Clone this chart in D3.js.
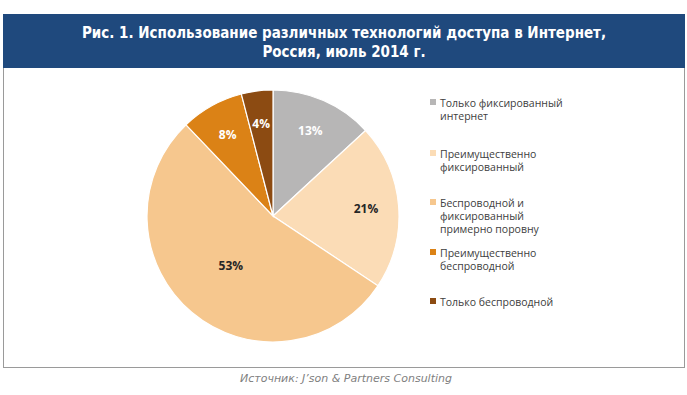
<!DOCTYPE html>
<html>
<head>
<meta charset="utf-8">
<script src="https://cdn.jsdelivr.net/npm/d3@7"></script>
<style>
  body { margin: 0; background: #fff; }
</style>
</head>
<body>
<div class="pieChart"></div>
<script>
var titleLines = ["Рис. 1. Использование различных технологий доступа в Интернет,", "Россия, июль 2014 г."];
var categories = [
  "Только фиксированный интернет",
  "Преимущественно фиксированный",
  "Беспроводной и фиксированный примерно поровну",
  "Преимущественно беспроводной",
  "Только беспроводной"
];
var legendLines = [
  ["Только фиксированный", "интернет"],
  ["Преимущественно", "фиксированный"],
  ["Беспроводной и", "фиксированный", "примерно поровну"],
  ["Преимущественно", "беспроводной"],
  ["Только беспроводной"]
];
var shares = [13, 21, 53, 8, 4];
var sliceColors = ["#b7b6b6", "#fbdcb6", "#f6c78e", "#db8216", "#8c4b12"];
var labelColors = ["#ffffff", "#262626", "#262626", "#ffffff", "#ffffff"];
var sourceText = "Источник: J’son & Partners Consulting";

function init() {
  var w = 687;
  var h = 395;
  var cx = 273;
  var cy = 216;
  var r = 126;

  var svg = d3.select(".pieChart")
    .append("svg")
    .attr("width", w)
    .attr("height", h);

  // frame + header band
  svg.append("rect")
    .attr("x", 3.5)
    .attr("y", 14.5)
    .attr("width", 681)
    .attr("height", 353)
    .attr("fill", "#fff")
    .attr("stroke", "#9a9a9a")
    .attr("stroke-width", 1);

  svg.append("rect")
    .attr("x", 3)
    .attr("y", 14)
    .attr("width", 682)
    .attr("height", 54)
    .attr("fill", "#1f497d");

  svg.selectAll(".title")
    .data(titleLines)
    .enter()
    .append("text")
    .attr("class", "title")
    .attr("x", 344)
    .attr("y", function(d, i) { return 38 + i * 19; })
    .attr("text-anchor", "middle")
    .attr("fill", "#fff")
    .attr("font-family", "'Liberation Sans Narrow', 'DejaVu Sans Condensed', 'Roboto', sans-serif")
    .attr("font-weight", "bold")
    .attr("font-size", "15px")
    .text(function(d) { return d; });

  var pie = d3.pie()
    .sort(null)
    .value(function(d) { return d; });

  var arcs = pie(shares);

  var arc = d3.arc()
    .innerRadius(0)
    .outerRadius(r);

  var g = svg.append("g")
    .attr("transform", "translate(" + cx + "," + cy + ")");

  g.selectAll("path")
    .data(arcs)
    .enter()
    .append("path")
    .attr("d", arc)
    .attr("fill", function(d, i) { return sliceColors[i]; })
    .attr("stroke", "#fff")
    .attr("stroke-width", 1.2);

  // labels: big slice near the middle, small ones toward the rim
  g.selectAll(".lbl")
    .data(arcs)
    .enter()
    .append("text")
    .attr("class", "lbl")
    .attr("transform", function(d) {
      var lr = d.data > 50 ? r * 0.52 : r * 0.74;
      var la = d3.arc().innerRadius(lr).outerRadius(lr);
      return "translate(" + la.centroid(d) + ")";
    })
    .attr("dy", "0.35em")
    .attr("text-anchor", "middle")
    .attr("fill", function(d, i) { return labelColors[i]; })
    .attr("font-family", "'Open Sans', 'Liberation Sans', sans-serif")
    .attr("font-weight", "bold")
    .attr("font-size", "12px")
    .text(function(d) { return d.data + "%"; });

  // legend
  var legendY = [103, 154, 203, 253, 302];
  var legend = svg.append("g")
    .attr("class", "legend")
    .attr("transform", "translate(430,0)");

  var item = legend.selectAll(".legend-item")
    .data(categories)
    .enter()
    .append("g")
    .attr("class", "legend-item")
    .attr("transform", function(d, i) { return "translate(0," + legendY[i] + ")"; });

  item.append("rect")
    .attr("x", 0)
    .attr("y", -4)
    .attr("width", 6)
    .attr("height", 6)
    .attr("fill", function(d, i) { return sliceColors[i]; });

  item.each(function(d, i) {
    d3.select(this).selectAll("text")
      .data(legendLines[i])
      .enter()
      .append("text")
      .attr("x", 10)
      .attr("y", function(t, j) { return j * 13; })
      .attr("dy", "0.35em")
      .attr("fill", "#404040")
      .attr("font-family", "'Open Sans', 'Liberation Sans', sans-serif")
      .attr("font-size", "10.5px")
      .text(function(t) { return t; });
  });

  // source
  svg.append("text")
    .attr("x", 346)
    .attr("y", 382)
    .attr("text-anchor", "middle")
    .attr("fill", "#7f7f7f")
    .attr("font-family", "'DejaVu Sans', sans-serif")
    .attr("font-style", "italic")
    .attr("font-size", "11px")
    .text(sourceText);
}

window.onload = init;
</script>
</body>
</html>
